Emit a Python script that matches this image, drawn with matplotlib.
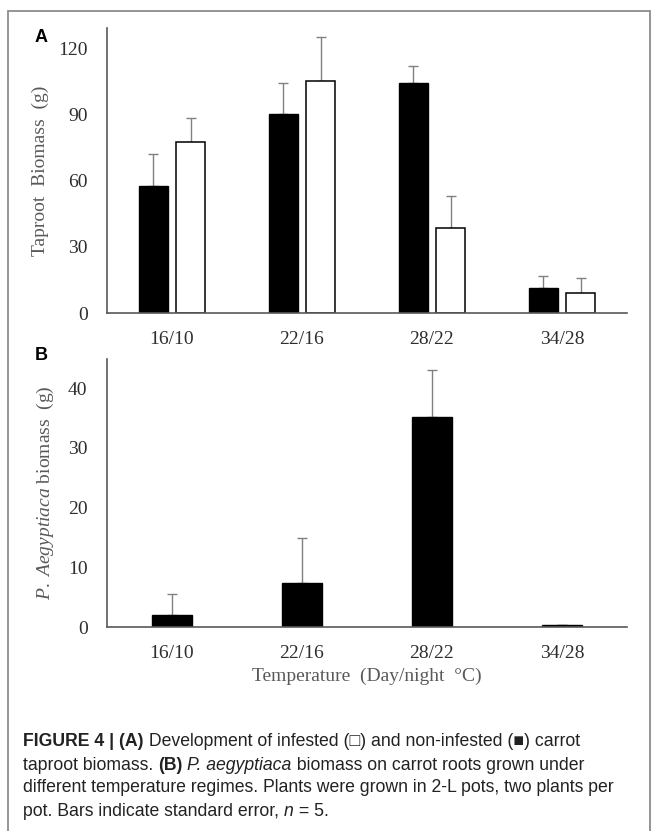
import numpy as np
import matplotlib
matplotlib.use('Agg')
import matplotlib.pyplot as plt
from matplotlib.patches import Rectangle

plt.rcParams['font.family'] = ['Liberation Serif', 'DejaVu Serif']
plt.rcParams['mathtext.fontset'] = 'custom'
plt.rcParams['mathtext.rm'] = 'Liberation Serif'
plt.rcParams['mathtext.it'] = 'Liberation Serif:italic'

# data
categories = ['16/10', '22/16', '28/22', '34/28']
non_infested = [57.9, 90.6, 104.4, 11.5]
non_infested_se = [14.4, 13.8, 7.9, 5.5]
infested = [77.9, 105.6, 38.6, 9.1]
infested_se = [10.9, 19.9, 14.4, 6.7]
aegyptiaca = [2.0, 7.4, 35.2, 0.3]
aegyptiaca_se = [3.5, 7.5, 7.8, 0.0]

tick_col = '#2e2e2e'
label_col = '#595959'
err_col = '#808080'

fig = plt.figure(figsize=(6.55, 8.31), dpi=100)
W, H = 655, 831


def style_axis(ax, ylim, yticks):
    ax.set_xlim(-0.5, 3.5)
    ax.set_ylim(*ylim)
    ax.set_yticks(yticks)
    ax.set_xticks(np.arange(len(categories)))
    ax.set_xticklabels(categories)
    for s in ['top', 'right']:
        ax.spines[s].set_visible(False)
    for s in ['left', 'bottom']:
        ax.spines[s].set_color('#595959')
        ax.spines[s].set_linewidth(1.2)
    ax.tick_params(axis='both', length=0, labelsize=14, colors=tick_col)
    ax.tick_params(axis='y', pad=14)
    ax.tick_params(axis='x', pad=13)


x = np.arange(len(categories))

# panel A
axA = fig.add_axes([107 / W, 1 - 313 / H, 520 / W, 285 / H])
w = 0.225
axA.bar(x - 0.145, non_infested, w, color='black', edgecolor='black', linewidth=1, zorder=2)
axA.bar(x + 0.145, infested, w, color='white', edgecolor='black', linewidth=1.1, zorder=2)
axA.errorbar(x - 0.145, non_infested, yerr=[np.zeros(4), non_infested_se], fmt='none',
             ecolor=err_col, elinewidth=1, capsize=3.5, capthick=1, zorder=1)
axA.errorbar(x + 0.145, infested, yerr=[np.zeros(4), infested_se], fmt='none',
             ecolor=err_col, elinewidth=1, capsize=3.5, capthick=1, zorder=1)
style_axis(axA, (0, 129.5), [0, 30, 60, 90, 120])
axA.set_ylabel('Taproot  Biomass  (g)', fontsize=14, color=label_col)
axA.yaxis.set_label_coords(-0.111, 0.5)

# panel B
axB = fig.add_axes([107 / W, 1 - 627 / H, 520 / W, 268 / H])
axB.bar(x, aegyptiaca, 0.31, color='black', edgecolor='black', linewidth=1, zorder=2)
axB.errorbar(x, aegyptiaca, yerr=[np.zeros(4), aegyptiaca_se], fmt='none',
             ecolor=err_col, elinewidth=1, capsize=3.5, capthick=1, zorder=1)
style_axis(axB, (0, 44.9), [0, 10, 20, 30, 40])
axB.set_ylabel(r'$\mathit{P.\ Aegyptiaca}$ biomass  (g)', fontsize=14, color=label_col)
axB.yaxis.set_label_coords(-0.098, 0.5)
axB.set_xlabel('Temperature  (Day/night  \u00b0C)', fontsize=14, color=label_col, labelpad=4)

# panel letters
fig.text(41 / W, 1 - 37 / H, 'A', fontsize=13, fontweight='bold', family='Liberation Sans',
         ha='center', va='center')
fig.text(41 / W, 1 - 356 / H, 'B', fontsize=13, fontweight='bold', family='Liberation Sans',
         ha='center', va='center')

# outer frame
fig.add_artist(Rectangle((8 / W, -0.05), (650 - 8) / W, 1.05 - 11 / H, transform=fig.transFigure,
                         fill=False, edgecolor='#8c8c8c', linewidth=1.3, clip_on=False))

# caption
cap_lines = [
    [('FIGURE 4 | (A)', 'bold', 'normal'),
     (' Development of infested (\u25a1) and non-infested (\u25a0) carrot', 'normal', 'normal')],
    [('taproot biomass. ', 'normal', 'normal'), ('(B)', 'bold', 'normal'), (' ', 'normal', 'normal'),
     ('P. aegyptiaca', 'normal', 'italic'), (' biomass on carrot roots grown under', 'normal', 'normal')],
    [('different temperature regimes. Plants were grown in 2-L pots, two plants per', 'normal', 'normal')],
    [('pot. Bars indicate standard error, ', 'normal', 'normal'), ('n', 'normal', 'italic'),
     (' = 5.', 'normal', 'normal')],
]
cap_y = [742, 765, 788, 811]
renderer = fig.canvas.get_renderer()
for runs, yy in zip(cap_lines, cap_y):
    xx = 23
    for txt, wt, st in runs:
        t = fig.text(xx / W, 1 - yy / H, txt, fontsize=12.7, fontweight=wt, fontstyle=st,
                     family=['Liberation Sans', 'DejaVu Sans'], color='#222222', va='center')
        bb = t.get_window_extent(renderer=renderer)
        xx += bb.width

fig.savefig('out.png', dpi=100)
